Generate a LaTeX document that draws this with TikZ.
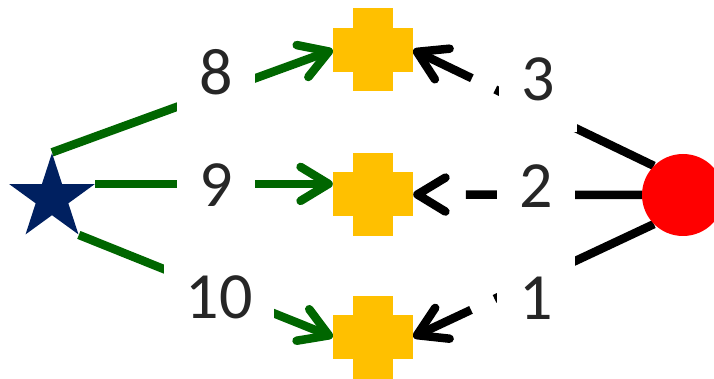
\documentclass[tikz,border=0pt]{standalone}
\usepackage{fontspec}
\setmainfont{Carlito}
\usetikzlibrary{arrows.meta, shapes.geometric, backgrounds}
\definecolor{navystar}{RGB}{0,32,96}
\definecolor{linkgreen}{RGB}{0,102,0}
\definecolor{plusgold}{RGB}{255,192,0}
\definecolor{numgrey}{RGB}{38,38,38}
\tikzset{
  plusbar/.style={fill=plusgold, inner sep=0pt, minimum width=40pt, minimum height=83pt},
  plus/.style={fill=plusgold, inner sep=0pt, minimum width=80pt, minimum height=44pt, label={[plusbar]center:}},
  numlabel/.style={fill=white, text=numgrey, font=\fontsize{66}{70}\selectfont, inner xsep=22pt, inner ysep=31pt, text height=42pt, text depth=0pt},
  barb/.tip={Straight Barb[length=28pt, width=34pt, round]},
  greenlink/.style={linkgreen, line width=8.5pt, -barb},
  blacklink/.style={black, line width=8.5pt, dash pattern=on 176pt off 26pt, -barb}
}
\begin{document}
\begin{tikzpicture}[x=1pt, y=-1pt]
\useasboundingbox (0,0) rectangle (714,379);
% shapes
\node[star, star points=5, star point ratio=2.618, fill=navystar, inner sep=0pt, minimum size=90pt] (st) at (52,198) {};
\node[plus] (p1) at (373,50) {};
\node[plus] (p2) at (373,194.5) {};
\node[plus] (p3) at (373,337) {};
\node[circle, fill=red, inner sep=0pt, minimum size=82pt] (c) at (683,195) {};
% links
\begin{scope}[on background layer]
\draw[greenlink] (st.outer point 1) -- (p1.west);
\draw[greenlink] (st.outer point 5) -- (st.outer point 5 -| p2.west);
\draw[greenlink] (st.outer point 4) -- (p3.west);
\draw[blacklink] (c.north west) -- (p1.east);
\draw[blacklink, dash pattern=on 176pt off 60pt] (c.west) -- (p2.east);
\draw[blacklink] (c.south west) -- (p3.east);
\end{scope}
% numbers
\node[numlabel] (l8) at (216,74) {8};
\node[numlabel] (l9) at (216,186) {9};
\node[numlabel] (l10) at (219,297) {10};
\node[numlabel] (l3) at (538,80) {3};
\node[numlabel] (l2) at (536,187) {2};
\node[numlabel] (l1) at (536,298) {1};
\end{tikzpicture}
\end{document}
